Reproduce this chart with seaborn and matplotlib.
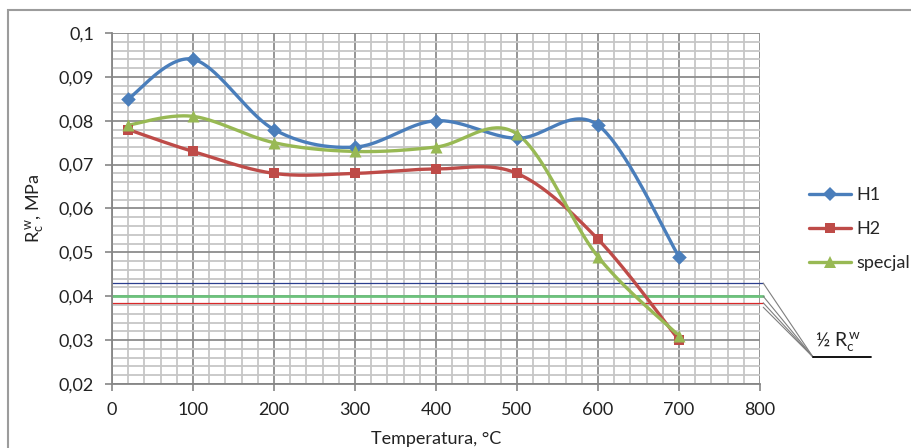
import numpy as np
import pandas as pd
import matplotlib
matplotlib.use("Agg")
import matplotlib.pyplot as plt
import seaborn as sns
from matplotlib.ticker import MultipleLocator, FuncFormatter
from matplotlib.lines import Line2D
from matplotlib.patches import Rectangle

# --- data ---------------------------------------------------------------
temperatura = [20, 100, 200, 300, 400, 500, 600, 700]
h1 = [0.085, 0.094, 0.078, 0.074, 0.080, 0.076, 0.079, 0.049]
h2 = [0.078, 0.073, 0.068, 0.068, 0.069, 0.068, 0.053, 0.030]
specjal = [0.079, 0.081, 0.075, 0.073, 0.074, 0.077, 0.049, 0.031]

serie = ["H1", "H2", "specjal"]
wartosci = [h1, h2, specjal]
kolory = ["#4A7EBB", "#BE4B48", "#98B954"]
znaczniki = ["D", "s", "^"]
rozmiary = [55, 55, 75]

# half-strength reference levels (½ Rc^w)
polowa_poziomy = [0.043, 0.040, 0.0385]
polowa_kolory = ["#2B3F8F", "#6CC27C", "#D9282A"]
polowa_grubosci = [0.9, 2.0, 0.9]
odnosniki = [0.043, 0.040, 0.0385, 0.0375]

x_ticks = [0, 100, 200, 300, 400, 500, 600, 700, 800]
y_ticks = [0.02, 0.03, 0.04, 0.05, 0.06, 0.07, 0.08, 0.09, 0.1]


def wygladz(x, y, n=40):
    """Smooth curve through the points (Catmull-Rom / Bezier, as in spreadsheet charts)."""
    p = np.column_stack([x, y]).astype(float)
    pts = np.vstack([p[0], p, p[-1]])
    out = []
    t = np.linspace(0, 1, n)[:, None]
    for i in range(1, len(pts) - 2):
        p0, p1, p2, p3 = pts[i - 1], pts[i], pts[i + 1], pts[i + 2]
        c1 = p1 + (p2 - p0) / 6.0
        c2 = p2 - (p3 - p1) / 6.0
        seg = ((1 - t) ** 3) * p1 + 3 * ((1 - t) ** 2) * t * c1 + 3 * (1 - t) * t ** 2 * c2 + t ** 3 * p2
        out.append(seg if i == 1 else seg[1:])
    s = np.vstack(out)
    return s[:, 0], s[:, 1]


sns.set_theme(style="white")
plt.rcParams["font.family"] = ["Lato", "DejaVu Sans"]
plt.rcParams["mathtext.fontset"] = "custom"
plt.rcParams["mathtext.rm"] = "Lato"
plt.rcParams["mathtext.it"] = "Lato"

fig = plt.figure(figsize=(9.12, 4.48), dpi=100)
ax = fig.add_axes([112 / 912, 1 - 384 / 448, 648 / 912, 351 / 448])

# outer chart frame
fig.patches.append(Rectangle((8 / 912, -0.2), 1.2, 1.2 + (448 - 10) / 448 - 1,
                             transform=fig.transFigure, fill=False,
                             edgecolor="#9C9C9C", lw=1.5, zorder=0))

# grid
ax.set_xlim(0, 800)
ax.set_ylim(0.02, 0.1)
ax.xaxis.set_major_locator(MultipleLocator(100))
ax.xaxis.set_minor_locator(MultipleLocator(20))
ax.yaxis.set_major_locator(MultipleLocator(0.01))
ax.yaxis.set_minor_locator(MultipleLocator(0.002))
ax.grid(which="minor", color="#C6C6C6", lw=1.3, zorder=0)
ax.grid(which="major", color="#8C8C8C", lw=1.3, zorder=0)
ax.set_axisbelow(True)
for s in ["top", "right"]:
    ax.spines[s].set_visible(False)
for s in ["left", "bottom"]:
    ax.spines[s].set_color("#868686")
    ax.spines[s].set_linewidth(1.3)

ax.tick_params(axis="both", which="major", direction="out", length=5, width=1.2,
               color="#868686", labelsize=13, labelcolor="#222222", pad=8,
               left=True, bottom=True)
ax.tick_params(axis="both", which="minor", length=0)
ax.set_xticks(x_ticks)
ax.set_yticks(y_ticks)
ax.xaxis.set_major_formatter(FuncFormatter(lambda v, p: f"{v:.0f}"))
ax.yaxis.set_major_formatter(FuncFormatter(lambda v, p: f"{v:.2f}".rstrip("0").replace(".", ",")
                                           if v < 0.099 else "0,1"))

# half-strength levels and their leader lines to the label
for lvl, c, lw in zip(polowa_poziomy, polowa_kolory, polowa_grubosci):
    ax.axhline(lvl, xmin=0, xmax=1.005, color=c, lw=lw, clip_on=False, zorder=2)
for lvl in odnosniki:
    ax.annotate("", xy=(1.005, lvl), xycoords=("axes fraction", "data"),
                xytext=(813, 91), textcoords="figure pixels",
                arrowprops=dict(arrowstyle="-", color="#7F7F7F", lw=0.8,
                                shrinkA=0, shrinkB=0), annotation_clip=False)
fig.add_artist(Line2D([813 / 912, 871 / 912], [91 / 448, 91 / 448],
                      transform=fig.transFigure, color="black", lw=1.3))
fig.text(815 / 912, 95 / 448, r"½ $\mathrm{R_c^{\,w}}$", fontsize=14,
         ha="left", va="bottom", color="#222222")

# series
handles = []
for name, vals, c, m, sz in zip(serie, wartosci, kolory, znaczniki, rozmiary):
    xs, ys = wygladz(temperatura, vals)
    sns.lineplot(x=xs, y=ys, sort=False, color=c, lw=2.4, ax=ax, zorder=3,
                 estimator=None)
    sns.scatterplot(x=temperatura, y=vals, marker=m, s=sz, color=c,
                    edgecolor=c, linewidth=0, ax=ax, zorder=4)
    handles.append(Line2D([], [], color=c, lw=2.4, marker=m,
                          markersize=np.sqrt(sz), markeredgewidth=0))

ax.legend(handles, serie, loc="upper left", bbox_to_anchor=(800 / 912, 1 - 178 / 448),
          bbox_transform=fig.transFigure, frameon=False, fontsize=13,
          handlelength=2.3, handletextpad=0.3, labelspacing=1.0, borderpad=0)

ax.set_ylabel(r"$\mathrm{R_c^{\,w}}$, MPa", fontsize=13, color="#222222", labelpad=8)
ax.set_xlabel("Temperatura, °C", fontsize=13, color="#222222", labelpad=9)

fig.savefig("out.png", dpi=100)
